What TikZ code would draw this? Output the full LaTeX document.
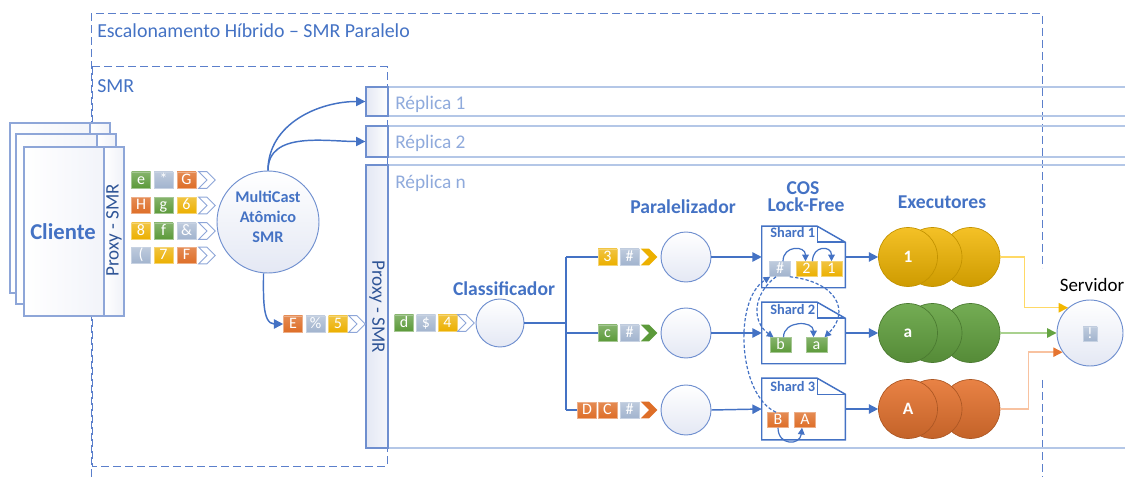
\documentclass[tikz,border=0pt]{standalone}
\usepackage{fontspec}
\setmainfont{Carlito}
\usetikzlibrary{arrows.meta,shapes.symbols,calc}

\definecolor{mainblue}{HTML}{4472C4}
\definecolor{framblue}{HTML}{5B7FCB}
\definecolor{darkblue}{HTML}{2F5597}
\definecolor{bandline}{HTML}{B4C7E7}
\definecolor{repltext}{HTML}{8FAADC}
\definecolor{edgeblue}{HTML}{6F8FCF}
\definecolor{cardedge}{HTML}{8EA6D8}
\definecolor{paleblue}{HTML}{E4E8F4}
\definecolor{tgreen}{HTML}{5C9A3A}
\definecolor{torange}{HTML}{DE6E28}
\definecolor{tyellow}{HTML}{ECB000}
\definecolor{tgray}{HTML}{A2B4CE}
\definecolor{eyel}{HTML}{F2B600}
\definecolor{egrn}{HTML}{64A341}
\definecolor{eorg}{HTML}{E67430}
\definecolor{lyel}{HTML}{FFD966}
\definecolor{lgrn}{HTML}{A9D18E}
\definecolor{lorg}{HTML}{F8C2A0}

\tikzset{
  frame/.style={draw=framblue, line width=0.75pt, dash pattern=on 6pt off 3pt},
  band/.style={draw=bandline, line width=1.2pt},
  repsq/.style={draw=edgeblue, line width=1pt, left color=paleblue, right color=white, inner sep=0pt},
  card/.style={draw=cardedge, line width=0.8pt, left color=white, right color=paleblue!60},
  title/.style={font=\fontsize{14.9}{16}\selectfont, text=mainblue, inner sep=0pt},
  repl/.style={font=\fontsize{14.5}{16}\selectfont, text=repltext, inner sep=0pt},
  lbl/.style={font=\fontsize{14.7}{11.5}\selectfont\bfseries, text=mainblue, inner sep=0pt, align=center},
  proxyl/.style={font=\fontsize{14.3}{16}\selectfont, text=darkblue, inner sep=0pt},
  tile/.style={minimum width=14.25pt, minimum height=12pt, inner sep=0pt, text=white,
    font=\fontsize{12}{12}\selectfont, line width=0.4pt, text height=8pt, text depth=1.5pt},
  tileG/.style={tile, top color=tgreen!75!white, bottom color=tgreen, draw=tgreen!55!white},
  tileO/.style={tile, top color=torange!80!white, bottom color=torange, draw=torange!55!white},
  tileY/.style={tile, top color=tyellow!75!white, bottom color=tyellow, draw=tyellow!55!white},
  tileS/.style={tile, top color=tgray!70!white, bottom color=tgray, draw=tgray!60!white},
  stile/.style={minimum width=15.75pt, minimum height=11.25pt},
  chev/.style={signal, signal from=west, signal to=east, minimum width=12.5pt, minimum height=12.5pt, inner sep=0pt},
  chevO/.style={chev, draw=cardedge, fill=white, line width=0.7pt},
  chevY/.style={chev, fill=tyellow},
  chevG/.style={chev, fill=tgreen},
  chevR/.style={chev, fill=torange},
  proc/.style={circle, draw=edgeblue, line width=0.7pt, top color=white, bottom color=paleblue, inner sep=0pt},
  flow/.style={draw=mainblue, line width=1.1pt, -{Triangle[length=7pt,width=7pt]}},
  bus/.style={draw=mainblue, line width=1.1pt},
  arcl/.style={draw=mainblue, line width=0.9pt, -{Triangle[length=5pt,width=5pt]}},
  dep/.style={draw=mainblue, line width=0.9pt, dash pattern=on 2.5pt off 1.5pt, -{Triangle[length=5pt,width=5pt]}},
  shardbox/.style={minimum width=62.25pt, minimum height=45.75pt, inner sep=0pt, fill=white},
  shardline/.style={draw=mainblue, line width=1.1pt, line join=miter},
  shardlbl/.style={font=\fontsize{10.8}{12}\selectfont\bfseries, text=mainblue, inner sep=0pt, anchor=west},
  exec/.style={circle, minimum size=44.25pt, inner sep=0pt, text=white, font=\fontsize{13}{13}\selectfont\bfseries, line width=0.5pt},
  exY/.style={exec, top color=eyel!85!white, bottom color=eyel!85!black, draw=eyel!80!black},
  exG/.style={exec, top color=egrn!90!white, bottom color=egrn!85!black, draw=egrn!75!black},
  exO/.style={exec, top color=eorg!90!white, bottom color=eorg!85!black, draw=eorg!75!black},
}

% folded-corner document outline around a shard node
\newcommand\docoutline[1]{%
  \draw[shardline] (#1.north west) -- ([xshift=-21pt]#1.north east) -- ([yshift=-12pt]#1.north east)
    -- (#1.south east) -- (#1.south west) -- cycle;
  \draw[shardline] ([xshift=-21pt]#1.north east) |- ([yshift=-12pt]#1.north east);
}

\begin{document}
\begin{tikzpicture}[x=0.75pt,y=-0.75pt]
\useasboundingbox (0,0) rectangle (1125,477);

% ---- outer frames
\draw[frame] (91,477) -- (91,14) -- (1042,14) -- (1042,268);
\draw[frame] (1042,380) -- (1042,477);
\draw[frame] (92,67) rectangle (387,466);
\node[title, anchor=west] (ttl) at (97,31) {Escalonamento Híbrido – SMR Paralelo};
\node[title, anchor=west] (smrl) at (97,86) {SMR};

% ---- replica bands
\draw[band] (1125,87) -- (366,87) -- (366,116) -- (1125,116);
\draw[band] (1125,126) -- (366,126) -- (366,157) -- (1125,157);
\draw[band] (1125,165) -- (366,165) -- (366,448) -- (1125,448);
\node[repsq, minimum width=16.5pt, minimum height=21.75pt] (r1sq) at (377,101.5) {};
\node[repsq, minimum width=16.5pt, minimum height=23.25pt] (r2sq) at (377,141.5) {};
\node[repsq, minimum width=16.5pt, minimum height=212.25pt, left color=paleblue, right color=paleblue!40] (rnprx) at (377,306.5) {};
\node[proxyl, rotate=-90] (rnprxl) at (377,307) {Proxy - SMR};
\node[repl, anchor=west] (r1l) at (395,104) {Réplica 1};
\node[repl, anchor=west] (r2l) at (395,143) {Réplica 2};
\node[repl, anchor=west] (rnl) at (395,183) {Réplica n};

% ---- client stack
\draw[card] (10,123) rectangle (110,293);
\draw[card] (90,123) rectangle (110,293);
\draw[card] (16,134) rectangle (116,304);
\draw[card] (97,134) rectangle (116,304);
\draw[card] (24,147) rectangle (124,316);
\draw[card] (104,147) rectangle (124,316);
\node[lbl, font=\fontsize{17}{19}\selectfont\bfseries] (cli) at (63,232) {Cliente};
\node[proxyl, rotate=90] (cliprx) at (114,230) {Proxy - SMR};

% ---- client messages
\node[tileG] (m11) at (141,180) {e};
\node[tileS] (m12) at (163.5,180) {*};
\node[tileO] (m13) at (186.5,180) {G};
\node[chevO] (c1) at (207,180) {};
\node[tileO] (m21) at (141,205.5) {H};
\node[tileG] (m22) at (163.5,205.5) {g};
\node[tileY] (m23) at (186.5,205.5) {6};
\node[chevO] (c2) at (207,205.5) {};
\node[tileY] (m31) at (141,231) {8};
\node[tileG] (m32) at (163.5,231) {f};
\node[tileS] (m33) at (186.5,231) {\&};
\node[chevO] (c3) at (207,231) {};
\node[tileS] (m41) at (141,255.5) {(};
\node[tileY] (m42) at (163.5,255.5) {7};
\node[tileO] (m43) at (186.5,255.5) {F};
\node[chevO] (c4) at (207,255.5) {};

% ---- atomic multicast
\node[proc, minimum size=76.5pt] (mc) at (268,222) {};
\node[lbl, font=\fontsize{12.2}{15}\selectfont\bfseries] (mct) at (268,217) {MultiCast\\Atômico\\SMR};
\draw[flow] (mc.north) to[out=90,in=180] (r1sq.west);
\draw[flow] (mc.north) to[out=90,in=180] (r2sq.west);

\node[tileO] (oE) at (293,324) {E};
\node[tileS] (oP) at (315.5,324) {\%};
\node[tileY] (o5) at (338,324) {5};
\node[chevO] (oc) at (357,324) {};
\draw[flow] (mc.265) to[out=-90,in=180] (oE.west);

% ---- replica n: classifier
\node[tileG] (id) at (404,323) {d};
\node[tileS] (is) at (426,323) {\$};
\node[tileY] (i4) at (447.5,323) {4};
\node[chevO] (ic) at (466,323) {};
\node[proc, minimum size=36pt] (cls) at (500,323) {};
\node[lbl] (clsl) at (504,289) {Classificador};

\coordinate (bm) at (566,323);
\coordinate (bt) at (566,257);
\coordinate (bc) at (566,333);
\coordinate (bb) at (566,410);
\draw[bus] (cls.east) -- (bm);
\draw[bus] (bt) -- (bb);

\node[tileY] (a3) at (607.5,257) {3};
\node[tileS] (ah) at (629.5,257) {\#};
\node[chevY] (ac) at (649,257) {};
\node[tileG] (bcn) at (607.5,333) {c};
\node[tileS] (bh) at (629.5,333) {\#};
\node[chevG] (bcv) at (649,333) {};
\node[tileO] (cD) at (587,410) {D};
\node[tileO] (cC) at (607.5,410) {C};
\node[tileS] (chh) at (629.5,410) {\#};
\node[chevR] (ccv) at (649,410) {};
\draw[bus] (bt) -- (a3.west);
\draw[bus] (bc) -- (bcn.west);
\draw[bus] (bb) -- (cD.west);

% ---- parallelizer
\node[lbl] (parl) at (683,207) {Paralelizador};
\node[proc, minimum size=37.5pt] (p1) at (686,257) {};
\node[proc, minimum size=37.5pt] (p2) at (686,333) {};
\node[proc, minimum size=37.5pt] (p3) at (686,410) {};

% ---- lock-free COS shards
\node[lbl, anchor=base, text height=9.6pt, text depth=0pt] (cosl) at (803,194.5) {COS};
\node[lbl, anchor=base, text height=9.6pt, text depth=0pt] (lfl) at (806,212) {Lock-Free};
\node[shardbox] (sh1) at (803.5,257) {};
\node[shardbox] (sh2) at (803.5,333) {};
\node[shardbox] (sh3) at (803.5,409) {};
\docoutline{sh1}
\docoutline{sh2}
\docoutline{sh3}
\node[shardlbl] (sh1l) at (770,233) {Shard 1};
\node[shardlbl] (sh2l) at (770,310) {Shard 2};
\node[shardlbl] (sh3l) at (770,387) {Shard 3};

\draw[flow] (p1.east) -- (sh1.west);
\draw[flow] (p2.east) -- (sh2.west);
\draw[flow] (p3.east) -- (sh3.west);

\node[tileS, stile] (s1h) at (780,269) {\#};
\node[tileY, stile] (s1two) at (806.5,269) {2};
\node[tileY, stile] (s1one) at (831.5,269) {1};
\node[tileG, stile] (s2b) at (780.5,345) {b};
\node[tileG, stile] (s2a) at (816.5,345) {a};
\node[tileO, stile] (s3B) at (778,420) {B};
\node[tileO, stile] (s3A) at (805,420) {A};

\draw[arcl] ($(s1h.north)+(3,0)$) .. controls +(0,-16) and +(0,-16) .. ($(s1two.north)+(-1,0)$);
\draw[arcl] ($(s1two.north)+(6,0)$) .. controls +(0,-16) and +(0,-16) .. ($(s1one.north)+(0,0)$);
\draw[arcl] ($(s2b.north)+(3,0)$) .. controls +(0,-17) and +(0,-17) .. ($(s2a.north)+(-3,0)$);
\draw[arcl] ($(s3B.south)+(0,0)$) .. controls +(0,18) and +(-2,18) .. ($(s3A.south)+(-3,0)$);

\draw[dep] ($(s1h.south)+(-4,0)$) .. controls (752,295) and (752,322) .. ($(s2b.north)+(-7,0)$);
\draw[dep] ($(s1h.south east)+(-1,0)$) .. controls (838,282) and (850,312) .. ($(s2a.north)+(8,0)$);
\draw[dep] ($(s3B.north)+(-2,0)$) .. controls (738,395) and (733,300) .. ($(s1h.south west)+(1,0)$);

% ---- executors
\node[lbl] (exl) at (942,202) {Executores};
\node[exY] (ey3) at (970.5,257) {};
\node[exY] (ey2) at (932.5,257) {};
\node[exY] (ey1) at (908,257) {1};
\node[exG] (eg3) at (970.5,333) {};
\node[exG] (eg2) at (932.5,333) {};
\node[exG] (eg1) at (908,333) {a};
\node[exO] (eo3) at (970.5,409) {};
\node[exO] (eo2) at (932.5,409) {};
\node[exO] (eo1) at (908,409) {A};

\draw[flow] (sh1.east) -- (ey1.west);
\draw[flow] (sh2.east) -- (eg1.west);
\draw[flow] (sh3.east) -- (eo1.west);

% ---- server
\node[proc, minimum size=49.5pt] (srv) at (1090,333) {};
\node[tileS, minimum width=10.5pt, minimum height=10.5pt] (srvm) at (1090,334) {!};
\node[font=\fontsize{14.2}{16}\selectfont, inner sep=0pt] (srvl) at (1092,285) {Servidor};

\draw[draw=lyel, line width=1.1pt, -{Triangle[length=7pt,width=7pt,color=eyel]}] (ey3.east) -- ++(24,0) |- (srv.131);
\draw[draw=lgrn, line width=1.1pt, -{Triangle[length=7pt,width=7pt,color=egrn]}] (eg3.east) -- (srv.west);
\draw[draw=lorg, line width=1.1pt, -{Triangle[length=7pt,width=7pt,color=eorg]}] (eo3.east) -- ++(28,0) |- (srv.215);

\end{tikzpicture}
\end{document}
